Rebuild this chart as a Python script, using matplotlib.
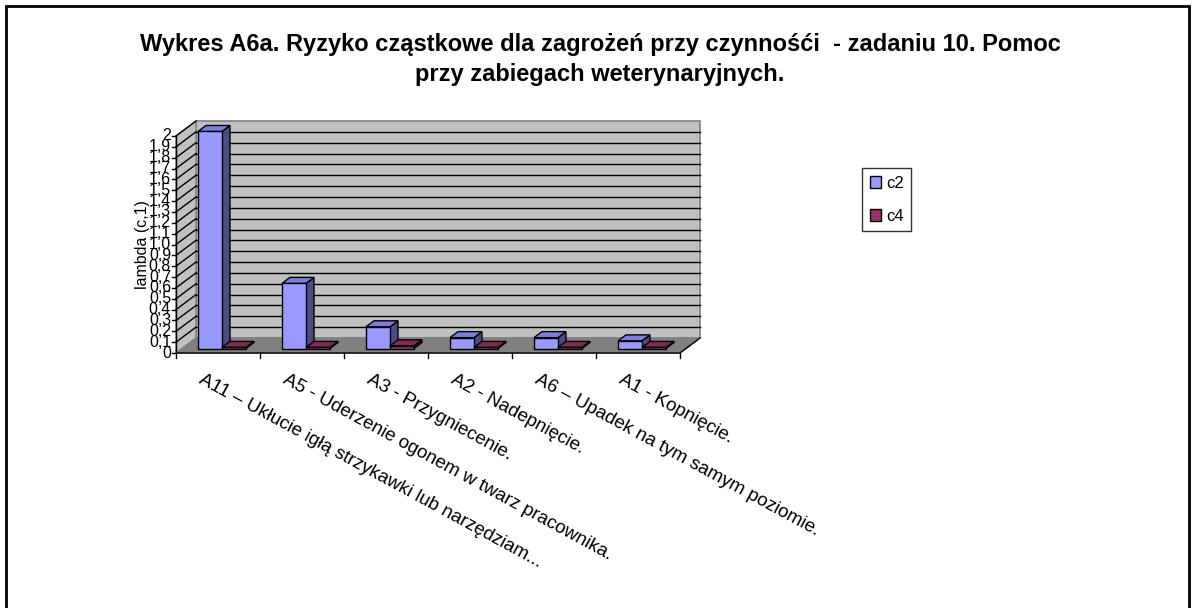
import matplotlib
matplotlib.use('Agg')
import matplotlib.pyplot as plt
from matplotlib.patches import Polygon, Rectangle, Patch

plt.rcParams['font.family'] = ['Liberation Sans', 'DejaVu Sans']

# Data
categories = ['A11 – Ukłucie igłą strzykawki lub narzędziam...',
              'A5 - Uderzenie ogonem w twarz pracownika.',
              'A3 - Przygniecenie.',
              'A2 - Nadepnięcie.',
              'A6 – Upadek na tym samym poziomie.',
              'A1 - Kopnięcie.']
c2 = [2.0, 0.6, 0.2, 0.1, 0.1, 0.07]
c4 = [0.01, 0.01, 0.025, 0.01, 0.01, 0.01]
series = [('c2', c2), ('c4', c4)]
y_ticks = [i / 10 for i in range(21)]
y_labels = ['0' if t == 0 else ('2' if t == 2 else f'{t:.1f}'.replace('.', ','))
            for t in y_ticks]

title = ('Wykres A6a. Ryzyko cząstkowe dla zagrożeń przy czynnośći  - zadaniu 10. Pomoc\n'
         'przy zabiegach weterynaryjnych.')

# colours: front, top, side
colors = {'c2': ('#9999FF', '#7F7FD9', '#4D4D85'),
          'c4': ('#993366', '#7F2A55', '#4D1A33')}

W, H = 1195, 608
fig = plt.figure(figsize=(W / 100, H / 100), dpi=100)

# front plane of the 3D box
x0, x1, y0, ytop = 176, 680, 353, 136
ax = fig.add_axes([x0 / W, (H - y0) / H, (x1 - x0) / W, (y0 - ytop) / H])
ax.set_xlim(0, len(categories))
ax.set_ylim(0, 2)
ax.axis('off')

ux = len(categories) / (x1 - x0)   # data units per pixel
uy = 2 / (y0 - ytop)

# depth offsets (pixels converted to data units)
DX, DY = 20 * ux, 15 * uy          # wall depth
FX, FY = 6 * ux, 4.5 * uy          # bar front
BX, BY = 14 * ux, 10.5 * uy        # bar back
bw = 2 / 7
n = len(categories)


def poly(pts, fc, ec, lw=1.0, z=1):
    ax.add_patch(Polygon(pts, closed=True, facecolor=fc, edgecolor=ec,
                         linewidth=lw, clip_on=False, zorder=z))


# walls and floor
poly([(DX, DY), (n + DX, DY), (n + DX, 2 + DY), (DX, 2 + DY)], '#C0C0C0', '#808080', 1.2)
poly([(0, 0), (DX, DY), (DX, 2 + DY), (0, 2)], '#C0C0C0', '#808080', 1.0)
poly([(0, 0), (n, 0), (n + DX, DY), (DX, DY)], '#808080', '#808080', 1.0)
ax.plot([0, n, n + DX], [0, 0, DY], color='black', lw=1, clip_on=False, zorder=2)

for t in y_ticks[1:-1]:
    ax.plot([DX, n + DX], [t + DY, t + DY], color='black', lw=1, clip_on=False, zorder=2)
for t in y_ticks[1:]:
    ax.plot([0, DX], [t, t + DY], color='black', lw=1, clip_on=False, zorder=2)

# y axis
ax.plot([0, 0], [0, 2], color='black', lw=1, clip_on=False, zorder=3)
for t, lab in zip(y_ticks, y_labels):
    ax.plot([-4 * ux, 0], [t, t], color='black', lw=1, clip_on=False, zorder=3)
    ax.text(-5 * ux, t, lab, ha='right', va='center', fontsize=11.5)
ax.text(-34 * ux, 1.0, 'lambda (c,1)', rotation=90, ha='center', va='center', fontsize=11.5)

# x axis ticks and labels
for i in range(n + 1):
    ax.plot([i, i], [0, -5 * uy], color='black', lw=1, clip_on=False, zorder=3)
for i, lab in enumerate(categories):
    ax.text(i + 0.5 - 14 * ux, -18 * uy, lab, rotation=-28.5, rotation_mode='anchor',
            ha='left', va='top', fontsize=13.5)

# bars
for i in range(n):
    for s, (name, vals) in enumerate(series):
        v = vals[i]
        L = i + 0.19 + s * bw
        R = L + bw
        front, top, side = colors[name]
        z = 5 + i * 2 + s
        poly([(R + FX, FY), (R + BX, BY), (R + BX, BY + v), (R + FX, FY + v)], side, 'black', 1, z)
        poly([(L + FX, FY + v), (R + FX, FY + v), (R + BX, BY + v), (L + BX, BY + v)], top, 'black', 1, z)
        poly([(L + FX, FY), (R + FX, FY), (R + FX, FY + v), (L + FX, FY + v)], front, 'black', 1, z)

# title
fig.text(600 / W, 1 - 33 / H, title, ha='center', va='top', fontsize=17,
         fontweight='bold', linespacing=1.4)

# legend
handles = [Patch(facecolor=colors[name][0], edgecolor='black', label=name) for name, _ in series]
fig.legend(handles=handles, loc='upper left', bbox_to_anchor=(862 / W, 1 - 168 / H),
           fontsize=12, frameon=True, fancybox=False, edgecolor='black',
           handlelength=0.7, handleheight=0.7, handletextpad=0.3,
           labelspacing=1.1, borderpad=0.45, borderaxespad=0)

# outer chart border
fig.add_artist(Rectangle((6 / W, -0.01), (1189 - 6) / W, 1 - 6 / H + 0.01,
                         transform=fig.transFigure, fill=False,
                         edgecolor='black', linewidth=2))

fig.savefig('out.png', dpi=100)
